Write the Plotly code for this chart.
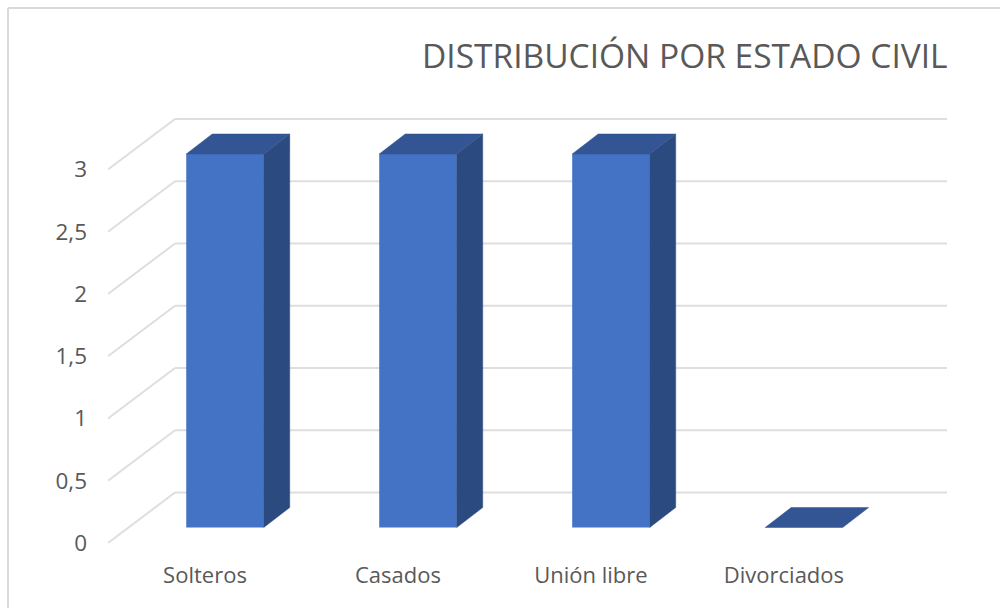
import plotly.graph_objects as go

categories = ["Solteros", "Casados", "Unión libre", "Divorciados"]
values = [3, 3, 3, 0]
y_ticks = [0, 0.5, 1, 1.5, 2, 2.5, 3]

# fake 3d offsets, in axis units (1 x unit = 193px, 1 y unit = 124.5px)
WALL_DX, WALL_DY = 67 / 193, 50.5 / 124.5
BAR_SHIFT_X, BAR_SHIFT_Y = 20 / 193, 15.5 / 124.5
BAR_DX, BAR_DY = 26 / 193, 20 / 124.5
BAR_W = 77.5 / 193
LEFT, RIGHT = -0.5026, 3.845

fig = go.Figure()

xs = [i + BAR_SHIFT_X for i in range(len(categories))]
fig.add_bar(x=xs, y=values, base=BAR_SHIFT_Y, width=BAR_W, marker=dict(color="#4472c4", line_width=0))

for x, v in zip(xs, values):
    x0, x1 = x - BAR_W / 2, x + BAR_W / 2
    top = v + BAR_SHIFT_Y
    # side face
    if v > 0:
        fig.add_scatter(x=[x1, x1 + BAR_DX, x1 + BAR_DX, x1, x1], y=[BAR_SHIFT_Y, BAR_SHIFT_Y + BAR_DY, top + BAR_DY, top, BAR_SHIFT_Y],
                        fill="toself", fillcolor="#2a4a80", mode="lines", line=dict(color="#2a4a80", width=0.5))
    # top face
    fig.add_scatter(x=[x0, x1, x1 + BAR_DX, x0 + BAR_DX, x0], y=[top, top, top + BAR_DY, top + BAR_DY, top],
                    fill="toself", fillcolor="#335593", mode="lines", line=dict(color="#335593", width=0.5))

# gridlines go under the bars
for t in y_ticks:
    fig.add_shape(type="line", layer="below", x0=LEFT, x1=LEFT + WALL_DX, y0=t, y1=t + WALL_DY, line=dict(color="#dedede", width=2))
    fig.add_shape(type="line", layer="below", x0=LEFT + WALL_DX, x1=RIGHT, y0=t + WALL_DY, y1=t + WALL_DY, line=dict(color="#dedede", width=2))

# chart frame, only top and left show in the crop
fig.add_shape(type="line", xref="paper", yref="paper", x0=(8 - 108) / 839, x1=(1000 - 108) / 839, y0=(556 - 8) / 456, y1=(556 - 8) / 456, line=dict(color="#d9d9d9", width=2))
fig.add_shape(type="line", xref="paper", yref="paper", x0=(8 - 108) / 839, x1=(8 - 108) / 839, y0=(556 - 8) / 456, y1=(556 - 608) / 456, line=dict(color="#d9d9d9", width=2))

fig.add_annotation(text="DISTRIBUCIÓN POR ESTADO CIVIL", xref="paper", yref="paper", x=842 / 839, y=(556 - 55) / 456,
                   xanchor="right", yanchor="middle", showarrow=False, font=dict(size=33.5, color="#595959"))

fig.update_layout(
    width=1000, height=608,
    margin=dict(l=108, r=53, t=100, b=52),
    plot_bgcolor="white", paper_bgcolor="white",
    showlegend=False,
    separators=", ",
    font=dict(family="Open Sans", color="#595959", size=18),
)
fig.update_xaxes(range=[LEFT, RIGHT], tickvals=list(range(len(categories))), ticktext=categories,
                 showgrid=False, zeroline=False, showline=False, ticks="", tickfont_size=22, ticklabelstandoff=4)
fig.update_yaxes(range=[-13 / 124.5, 443 / 124.5], tickvals=y_ticks, showgrid=False, zeroline=False,
                 showline=False, ticks="", tickfont_size=22.5, ticklabelstandoff=20)

fig.write_html("out.html", config=dict(displayModeBar=False), post_script="document.body.style.margin='0';")
